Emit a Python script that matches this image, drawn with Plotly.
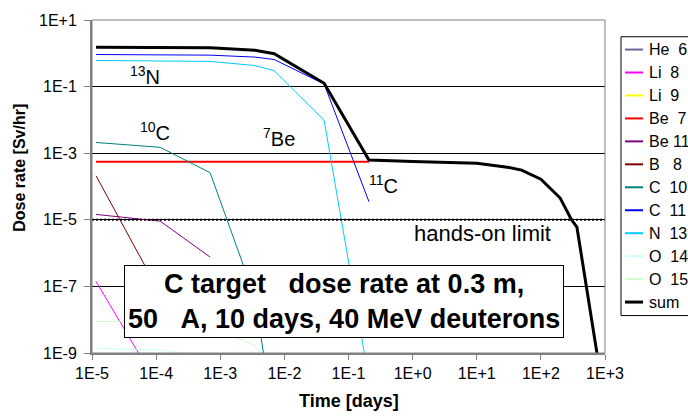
import plotly.graph_objects as go

# ---------------- data ----------------
# decay times after end of irradiation, in days (1 s, 10 s, 1 min, 5 min, 10 min, 1 h, 5 h)
TIMES = [1.157e-5, 1.157e-4, 6.944e-4, 3.472e-3, 6.944e-3, 4.167e-2, 0.2083]
SUM_TIMES = TIMES + [1, 10, 30, 50, 100, 200, 300, 365, 1000]

HE6 = [4e-10, 1e-13]
LI8 = [1.4e-7, 8e-11]
LI9 = [2e-10, 1e-15]
BE7 = [5.5e-4, 5.5e-4, 5.5e-4, 5.5e-4, 5.5e-4, 5.5e-4, 5.5e-4]
BE11 = [1.45e-5, 9.1e-6, 7.6e-7]
B8 = [2.1e-4, 6.0e-8]
C10 = [2.1e-3, 1.5e-3, 2.6e-4, 4.7e-8, 8e-12]
C11 = [0.92, 0.91, 0.88, 0.77, 0.65, 0.12, 3.5e-5]
N13 = [0.61, 0.60, 0.57, 0.43, 0.30, 0.0097, 1.6e-10]
O14 = [1.38e-9, 1.23e-9, 7.6e-10]
O15 = [8.9e-9, 8.5e-9, 6.5e-9, 1.66e-9, 3e-10]
SUM = [1.51, 1.50, 1.48, 1.23, 0.97, 0.126, 6.2e-4,
       5.6e-4, 5.0e-4, 3.8e-4, 3.1e-4, 1.66e-4, 4.5e-5, 1.0e-5, 6.0e-6, 3e-11]

SERIES_NAMES = ["He  6", "Li  8", "Li  9", "Be  7", "Be 11", "B   8",
                "C  10", "C  11", "N  13", "O  14", "O  15", "sum"]
SERIES_VALUES = [HE6, LI8, LI9, BE7, BE11, B8, C10, C11, N13, O14, O15, SUM]
SERIES_COLORS = ["#666699", "#FF00FF", "#FFFF00", "#FF0000", "#800080", "#800000",
                 "#008080", "#0000FF", "#00CCFF", "#CCFFFF", "#CCFFCC", "#000000"]
SERIES_WIDTHS = [1, 1, 1, 2, 1, 1, 1, 1, 1, 1, 1, 3]

HANDS_ON_LIMIT = 1e-5
X_TICKS = [1e-5, 1e-4, 1e-3, 1e-2, 1e-1, 1e0, 1e1, 1e2, 1e3]
X_TICKTEXT = ["1E-5", "1E-4", "1E-3", "1E-2", "1E-1", "1E+0", "1E+1", "1E+2", "1E+3"]
Y_TICKS = [1e1, 1e-1, 1e-3, 1e-5, 1e-7, 1e-9]
Y_TICKTEXT = ["1E+1", "1E-1", "1E-3", "1E-5", "1E-7", "1E-9"]

# ---------------- layout helpers ----------------
W, H = 688, 420
L, R, T, B = 92, 605, 15, 353          # plot area in pixels
FONT = "Arial, Liberation Sans, sans-serif"
NB = "\u00a0"


def px(x):
    return (x - L) / (R - L)


def py(y):
    return (B - y) / (B - T)


fig = go.Figure()

for name, vals, col, w in zip(SERIES_NAMES, SERIES_VALUES, SERIES_COLORS, SERIES_WIDTHS):
    xs = SUM_TIMES if name == "sum" else TIMES[:len(vals)]
    if name == "sum":
        # hands-on limit line drawn before the sum
        fig.add_trace(go.Scatter(x=[X_TICKS[0], X_TICKS[-1]], y=[HANDS_ON_LIMIT, HANDS_ON_LIMIT],
                                 mode="lines", line=dict(color="#000000", width=2, dash="2px,2px"),
                                 showlegend=False, hoverinfo="skip"))
    fig.add_trace(go.Scatter(x=xs, y=vals, mode="lines", name=name,
                             line=dict(color=col, width=w), showlegend=False))

shapes = []
annotations = []

# plot-area border
shapes.append(dict(type="rect", xref="paper", yref="paper", x0=0, x1=1, y0=0, y1=1,
                   line=dict(color="#808080", width=1), layer="above"))

# manual legend (Excel style, partly cut off at the right)
shapes.append(dict(type="rect", xref="paper", yref="paper", x0=px(621), x1=px(730),
                   y0=py(315), y1=py(32), line=dict(color="#000000", width=1),
                   fillcolor="white", layer="above"))
for i, (name, col, w) in enumerate(zip(SERIES_NAMES, SERIES_COLORS, SERIES_WIDTHS)):
    yy = 45 + 23.3 * i
    shapes.append(dict(type="line", xref="paper", yref="paper", x0=px(625), x1=px(643),
                       y0=py(yy), y1=py(yy), line=dict(color=col, width=3 if name == "sum" else 2),
                       layer="above"))
    annotations.append(dict(xref="paper", yref="paper", x=px(647), y=py(yy), xanchor="left",
                            yanchor="middle", showarrow=False, text=name.replace(" ", NB),
                            font=dict(family=FONT, size=16, color="#000000")))

# isotope labels
labels = [("<sup>13</sup>N", 145, 71), ("<sup>10</sup>C", 155, 128),
          ("<sup>7</sup>Be", 279, 134), ("<sup>11</sup>C", 383, 182),
          ("hands-on limit", 482, 232)]
for txt, x, y in labels:
    annotations.append(dict(xref="paper", yref="paper", x=px(x), y=py(y), xanchor="center",
                            yanchor="middle", showarrow=False, text=txt,
                            font=dict(family=FONT, size=22 if "limit" in txt else 20, color="#000000")))

# title box
annotations.append(dict(xref="paper", yref="paper", x=px(343.5), y=py(301), xanchor="center",
                        yanchor="middle", showarrow=False, align="center",
                        text="<b>C target" + NB * 3 + "dose rate at 0.3 m,<br>50" + NB * 3
                             + "A, 10 days, 40 MeV deuterons</b>",
                        font=dict(family=FONT, size=27, color="#000000"),
                        bgcolor="white", bordercolor="#000000", borderwidth=1, borderpad=3))

# axis titles
annotations.append(dict(xref="paper", yref="paper", x=px(20), y=py(165), xanchor="center",
                        yanchor="middle", showarrow=False, textangle=-90,
                        text="<b>Dose rate [Sv/hr]</b>",
                        font=dict(family=FONT, size=16, color="#000000")))
annotations.append(dict(xref="paper", yref="paper", x=px(349), y=py(402), xanchor="center",
                        yanchor="middle", showarrow=False, text="<b>Time [days]</b>",
                        font=dict(family=FONT, size=18, color="#000000")))

fig.update_layout(
    width=W, height=H,
    margin=dict(l=L, r=W - R, t=T, b=H - B, pad=0),
    paper_bgcolor="white", plot_bgcolor="white",
    showlegend=False,
    font=dict(family=FONT, size=15, color="#000000"),
    shapes=shapes, annotations=annotations,
    xaxis=dict(type="log", range=[-5, 3], tickvals=X_TICKS, ticktext=X_TICKTEXT,
               showgrid=False, zeroline=False, showline=True, linecolor="#808080",
               linewidth=2, ticks="outside", ticklen=5, tickcolor="#808080", tickwidth=1,
               tickfont=dict(family=FONT, size=16, color="#000000")),
    yaxis=dict(type="log", range=[-9, 1], tickvals=Y_TICKS, ticktext=Y_TICKTEXT,
               showgrid=True, gridcolor="#000000", gridwidth=1, zeroline=False,
               showline=True, linecolor="#808080", linewidth=2, ticks="outside",
               ticklen=6, tickcolor="#808080", tickwidth=1, ticklabelstandoff=4,
               tickfont=dict(family=FONT, size=16, color="#000000")),
)

fig.write_html("out.html")
